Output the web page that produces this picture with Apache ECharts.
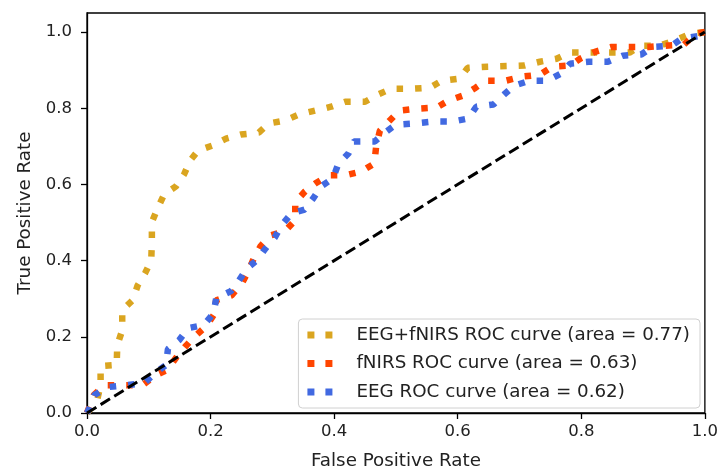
<!DOCTYPE html>
<html>
<head>
<meta charset="utf-8">
<script src="https://cdn.jsdelivr.net/npm/echarts@6/dist/echarts.min.js"></script>
<style>
  html, body { margin: 0; padding: 0; background: #fff; }
  #chart { width: 721px; height: 475px; }
</style>
</head>
<body>
<div id="chart"></div>
<script>
// ROC points: [false positive rate, true positive rate]
var fusionRoc = [
  [0, 0], [0.016, 0.031], [0.022, 0.073], [0.022, 0.123], [0.048, 0.126], [0.049, 0.178],
  [0.057, 0.217], [0.057, 0.270], [0.074, 0.296], [0.082, 0.335], [0.094, 0.367],
  [0.104, 0.401], [0.105, 0.451], [0.105, 0.501], [0.115, 0.540], [0.125, 0.574],
  [0.144, 0.595], [0.157, 0.626], [0.167, 0.663], [0.180, 0.689], [0.203, 0.702],
  [0.225, 0.720], [0.249, 0.731], [0.278, 0.736], [0.294, 0.760], [0.321, 0.768],
  [0.342, 0.783], [0.370, 0.794], [0.395, 0.804], [0.418, 0.817], [0.450, 0.817],
  [0.471, 0.836], [0.492, 0.851], [0.524, 0.851], [0.555, 0.854], [0.574, 0.872],
  [0.603, 0.878], [0.616, 0.906], [0.648, 0.909], [0.708, 0.912], [0.733, 0.922],
  [0.760, 0.930], [0.781, 0.946], [0.878, 0.946], [0.897, 0.964], [0.926, 0.964],
  [0.950, 0.977], [0.978, 0.996], [1, 1]
];
var fnirsRoc = [
  [0, 0], [0.011, 0.047], [0.028, 0.073], [0.064, 0.073], [0.090, 0.073], [0.112, 0.100],
  [0.130, 0.113], [0.146, 0.149], [0.160, 0.176], [0.175, 0.202], [0.193, 0.228],
  [0.205, 0.257], [0.209, 0.296], [0.234, 0.309], [0.251, 0.341], [0.262, 0.375],
  [0.270, 0.406], [0.281, 0.438], [0.297, 0.466], [0.320, 0.477], [0.337, 0.506],
  [0.337, 0.553], [0.353, 0.582], [0.370, 0.603], [0.391, 0.624], [0.418, 0.624],
  [0.444, 0.634], [0.465, 0.655], [0.468, 0.700], [0.474, 0.741], [0.490, 0.768],
  [0.506, 0.794], [0.535, 0.799], [0.566, 0.802], [0.585, 0.820], [0.608, 0.833],
  [0.629, 0.854], [0.645, 0.872], [0.677, 0.872], [0.704, 0.883], [0.733, 0.888],
  [0.753, 0.909], [0.782, 0.912], [0.798, 0.930], [0.822, 0.948], [0.849, 0.961],
  [0.909, 0.961], [0.934, 0.964], [0.966, 0.967], [0.986, 0.996], [1, 1]
];
var eegRoc = [
  [0, 0], [0.004, 0.013], [0.012, 0.047], [0.033, 0.068], [0.065, 0.073], [0.093, 0.079],
  [0.112, 0.107], [0.128, 0.126], [0.131, 0.168], [0.149, 0.191], [0.164, 0.223],
  [0.189, 0.231], [0.205, 0.262], [0.209, 0.301], [0.233, 0.320], [0.246, 0.348],
  [0.259, 0.380], [0.275, 0.401], [0.289, 0.432], [0.304, 0.461], [0.315, 0.493],
  [0.331, 0.524], [0.352, 0.534], [0.366, 0.563], [0.379, 0.595], [0.398, 0.616],
  [0.407, 0.655], [0.423, 0.681], [0.432, 0.713], [0.466, 0.713], [0.482, 0.736],
  [0.500, 0.757], [0.530, 0.760], [0.561, 0.765], [0.591, 0.765], [0.617, 0.773],
  [0.630, 0.804], [0.658, 0.810], [0.675, 0.836], [0.691, 0.859], [0.716, 0.872],
  [0.745, 0.872], [0.767, 0.891], [0.782, 0.917], [0.812, 0.922], [0.843, 0.922],
  [0.867, 0.938], [0.897, 0.941], [0.915, 0.961], [0.946, 0.964], [0.962, 0.982],
  [0.991, 0.990], [1, 1]
];
var chanceLine = [[0, 0], [1, 1]];
var tickValues = [0, 0.2, 0.4, 0.6, 0.8, 1.0];
var seriesNames = [
  'EEG+fNIRS ROC curve (area = 0.77)',
  'fNIRS ROC curve (area = 0.63)',
  'EEG ROC curve (area = 0.62)'
];

var chart = echarts.init(document.getElementById('chart'));

var font = 'DejaVu Sans';
var textColor = '#222';

var axisCommon = {
  type: 'value',
  min: 0,
  nameLocation: 'middle',
  nameTextStyle: { fontFamily: font, fontSize: 18.3, color: textColor },
  axisLine: { show: true, lineStyle: { color: '#000', width: 1.3 } },
  axisTick: {
    show: true, inside: false, length: 6,
    customValues: tickValues,
    lineStyle: { color: '#000', width: 1.3 }
  },
  axisLabel: {
    customValues: tickValues,
    fontFamily: font, fontSize: 16.5, color: textColor,
    formatter: function (v) { return v.toFixed(1); }
  },
  splitLine: { show: false }
};

function rocSeries(name, data, color) {
  return {
    name: name,
    type: 'line',
    data: data,
    symbol: 'none',
    silent: true,
    lineStyle: { color: color, width: 6.5, type: [6.5, 12], cap: 'butt' },
    itemStyle: { color: color },
    z: 3
  };
}

var option = {
  animation: false,
  backgroundColor: '#fff',
  grid: {
    left: 87, right: 13, top: 13, bottom: 60,
    show: true, borderColor: '#000', borderWidth: 1.3, backgroundColor: 'transparent'
  },
  xAxis: Object.assign({}, axisCommon, {
    max: 1,
    name: 'False Positive Rate',
    nameGap: 39,
    axisLabel: Object.assign({}, axisCommon.axisLabel, { margin: 10 })
  }),
  yAxis: Object.assign({}, axisCommon, {
    max: 1.05,
    name: 'True Positive Rate',
    nameGap: 53,
    axisLabel: Object.assign({}, axisCommon.axisLabel, { margin: 15 })
  }),
  legend: {
    data: seriesNames,
    orient: 'vertical',
    right: 21,
    bottom: 67,
    padding: [7, 10, 7, 9],
    itemGap: 10.5,
    itemWidth: 25,
    itemHeight: 7,
    icon: 'path://M0,0h7v7h-7z M18,0h7v7h-7z',
    backgroundColor: 'rgba(255,255,255,0.8)',
    borderColor: '#d0d0d0',
    borderWidth: 1,
    borderRadius: 4,
    textStyle: { fontFamily: font, fontSize: 18.3, color: textColor, padding: [0, 0, 0, 19] }
  },
  series: [
    rocSeries(seriesNames[0], fusionRoc, '#DAA520'),
    rocSeries(seriesNames[1], fnirsRoc, '#FF4500'),
    rocSeries(seriesNames[2], eegRoc, '#4169E1'),
    {
      name: 'chance',
      type: 'line',
      data: chanceLine,
      symbol: 'none',
      silent: true,
      lineStyle: { color: '#000', width: 3, type: [11, 5], cap: 'butt' },
      z: 4
    }
  ]
};

chart.setOption(option);
</script>
</body>
</html>
